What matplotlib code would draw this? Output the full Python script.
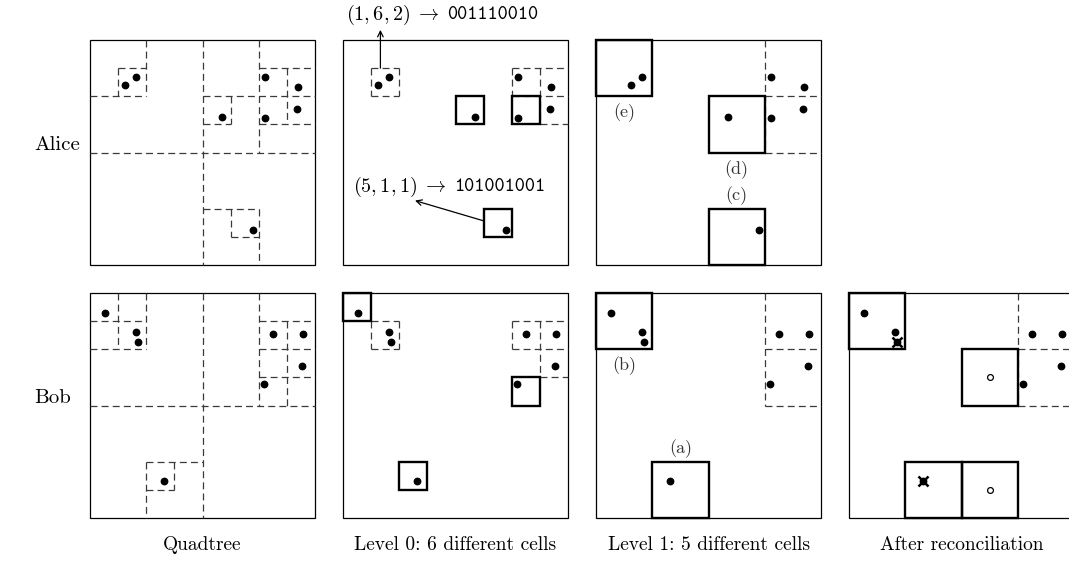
import matplotlib
matplotlib.use('Agg')
import matplotlib.pyplot as plt
from matplotlib.patches import Rectangle
from collections import Counter

plt.rcParams['mathtext.fontset'] = 'cm'
plt.rcParams['lines.scale_dashes'] = False

# ---------------- data (grid units, 8x8 level-0 cells, y measured from top) -------------
alice_x = [1.23, 1.63, 6.23, 7.40, 4.69, 6.23, 7.37, 5.80]
alice_y = [1.61, 1.32, 1.30, 1.67, 2.74, 2.77, 2.44, 6.75]
bob_x = [0.55, 1.65, 1.69, 6.49, 7.56, 7.52, 6.19, 2.63]
bob_y = [0.70, 1.37, 1.74, 1.44, 1.44, 2.61, 3.24, 6.67]

row_labels = ["Alice", "Bob"]
captions = ["Quadtree", "Level 0: 6 different cells",
            "Level 1: 5 different cells", "After reconciliation"]
# letters for level-1 differing cells: (cell x, cell y, letter, placement)
alice_letters = [((0, 0), "(e)", "below"), ((4, 2), "(d)", "below"), ((4, 6), "(c)", "above")]
bob_letters = [((0, 0), "(b)", "below"), ((2, 6), "(a)", "above")]
# annotated level-0 cells of Alice
annot_cells = [(1, 1), (5, 6)]

GRID = 8
W, H = 1069, 570
fig = plt.figure(figsize=(W / 100, H / 100), dpi=100)

col_left = [90, 343, 596, 849]
row_top = [40, 293]
SIZE = 225
DASH_C = '#3a3a3a'
SERIF = 'cmr10'


def make_ax(col, row):
    l = col_left[col]
    t = row_top[row]
    ax = fig.add_axes([l / W, 1 - (t + SIZE) / H, SIZE / W, SIZE / H])
    ax.set_xlim(0, GRID)
    ax.set_ylim(GRID, 0)
    ax.axis('off')
    ax.add_patch(Rectangle((0, 0), GRID, GRID, fill=False, lw=0.9, ec='black',
                           clip_on=False, zorder=1))
    return ax


def counts(xs, ys, s):
    return Counter((int(x // s) * s, int(y // s) * s) for x, y in zip(xs, ys))


def dashed_cells(ax, cells):
    # cells: list of (x0, y0, s); draw union of edges, merged, without the frame
    segs = set()
    for (x0, y0, s) in cells:
        for i in range(s):
            segs.add(('h', y0, x0 + i))
            segs.add(('h', y0 + s, x0 + i))
            segs.add(('v', x0, y0 + i))
            segs.add(('v', x0 + s, y0 + i))
    segs = {sg for sg in segs if sg[1] not in (0, GRID)}
    lines = {}
    for kind, c, st in segs:
        lines.setdefault((kind, c), []).append(st)
    for (kind, c), starts in lines.items():
        starts.sort()
        runs = []
        a = starts[0]
        b = a + 1
        for st in starts[1:]:
            if st == b:
                b += 1
            else:
                runs.append((a, b))
                a, b = st, st + 1
        runs.append((a, b))
        for a, b in runs:
            if kind == 'h':
                ax.plot([a, b], [c, c], color=DASH_C, lw=0.9, dashes=(5, 3),
                        clip_on=False, zorder=2)
            else:
                ax.plot([c, c], [a, b], color=DASH_C, lw=0.9, dashes=(5, 3),
                        clip_on=False, zorder=2)


def solid_cells(ax, cells):
    for (x0, y0, s) in cells:
        ax.add_patch(Rectangle((x0, y0), s, s, fill=False, lw=1.7, ec='black',
                               clip_on=False, zorder=3))


def dots(ax, xs, ys):
    ax.plot(xs, ys, 'o', ms=4.6, color='black', clip_on=False, zorder=5)


def code_label(ax, x, y, cx, ybot, n):
    bits = format(cx, '03b') + format(ybot, '03b') + format(n, '03b')
    t = ax.text(x, y, r'$(%d, %d, %d)\;\rightarrow$' % (cx, ybot, n),
                fontsize=14.5, ha='left', va='center')
    ax.annotate(bits, xy=(1, 0.5), xycoords=t, xytext=(5, 0),
                textcoords='offset points', fontsize=14, family='cmtt10',
                ha='left', va='center')


people = [(alice_x, alice_y), (bob_x, bob_y)]
c0 = [counts(x, y, 1) for x, y in people]
c1 = [counts(x, y, 2) for x, y in people]

for r, (xs, ys) in enumerate(people):
    other = 1 - r
    # Quadtree
    ax = make_ax(0, r)
    cells = []
    for s in (1, 2, 4):
        cells += [(k[0], k[1], s) for k in counts(xs, ys, s)]
    dashed_cells(ax, cells)
    dots(ax, xs, ys)

    # Level 0
    ax = make_ax(1, r)
    same = [(k[0], k[1], 1) for k, v in c0[r].items() if c0[other].get(k) == v]
    diff = [(k[0], k[1], 1) for k, v in c0[r].items() if c0[other].get(k) != v]
    dashed_cells(ax, same)
    solid_cells(ax, diff)
    dots(ax, xs, ys)
    if r == 0:
        for (cx, cy) in annot_cells:
            n = c0[0][(cx, cy)]
            ybot = GRID - 1 - cy
            if cy < 4:
                code_label(ax, 0.12, -0.9, cx, ybot, n)
                ax.annotate('', xy=(cx + 0.33, -0.36), xytext=(cx + 0.33, cy),
                            arrowprops=dict(arrowstyle='->', lw=0.9, color='black',
                                            shrinkA=0, shrinkB=0),
                            annotation_clip=False)
            else:
                code_label(ax, 0.36, 5.24, cx, ybot, n)
                ax.annotate('', xy=(2.56, 5.71), xytext=(cx, cy + 0.43),
                            arrowprops=dict(arrowstyle='->', lw=0.9, color='black',
                                            shrinkA=0, shrinkB=0),
                            annotation_clip=False)

    # Level 1
    ax = make_ax(2, r)
    same = [(k[0], k[1], 2) for k, v in c1[r].items() if c1[other].get(k) == v]
    diff = [(k[0], k[1], 2) for k, v in c1[r].items() if c1[other].get(k) != v]
    dashed_cells(ax, same)
    solid_cells(ax, diff)
    dots(ax, xs, ys)
    for (cell, letter, place) in (alice_letters if r == 0 else bob_letters):
        tx = cell[0] + 1
        ty = cell[1] + 2 + 0.6 if place == 'below' else cell[1] - 0.45
        ax.text(tx, ty, letter, fontsize=13, ha='center', va='center',
                family=SERIF, color='#333333')

# After reconciliation (Bob)
ax = make_ax(3, 1)
diff_cells = set(k for k, v in c1[1].items() if c1[0].get(k) != v)
diff_cells |= set(k for k, v in c1[0].items() if c1[1].get(k) != v)
same = [(k[0], k[1], 2) for k, v in c1[1].items() if c1[0].get(k) == v]
dashed_cells(ax, same)
solid_cells(ax, [(k[0], k[1], 2) for k in sorted(diff_cells)])
removed = []
for k in diff_cells:
    excess = c1[1].get(k, 0) - c1[0].get(k, 0)
    if excess > 0:
        idx = [i for i in range(len(bob_x))
               if (int(bob_x[i] // 2) * 2, int(bob_y[i] // 2) * 2) == k]
        removed += idx[-excess:]
keep = [i for i in range(len(bob_x)) if i not in removed]
dots(ax, [bob_x[i] for i in keep], [bob_y[i] for i in keep])
ax.plot([bob_x[i] for i in removed], [bob_y[i] for i in removed], 'o', ms=4.6,
        color='black', zorder=5)
ax.plot([bob_x[i] for i in removed], [bob_y[i] for i in removed], 'x', ms=6.5,
        mew=1.8, color='black', zorder=6)
add_x, add_y = [], []
for k in diff_cells:
    need = c1[0].get(k, 0) - c1[1].get(k, 0)
    if need > 0 and c1[1].get(k, 0) == 0:
        add_x.append(k[0] + 1)
        add_y.append(k[1] + 1)
ax.plot(add_x, add_y, 'o', ms=4.2, mfc='white', mec='black', mew=0.9, zorder=5)

# row labels and captions
for r, lab in enumerate(row_labels):
    fig.text(34 / W, 1 - (row_top[r] + 105) / H, lab, fontsize=15, family=SERIF,
             ha='left', va='center')
for c, cap in enumerate(captions):
    fig.text((col_left[c] + SIZE / 2) / W, 1 - 545 / H, cap, fontsize=14,
             family=SERIF, ha='center', va='center')

fig.savefig('out.png', dpi=100)
